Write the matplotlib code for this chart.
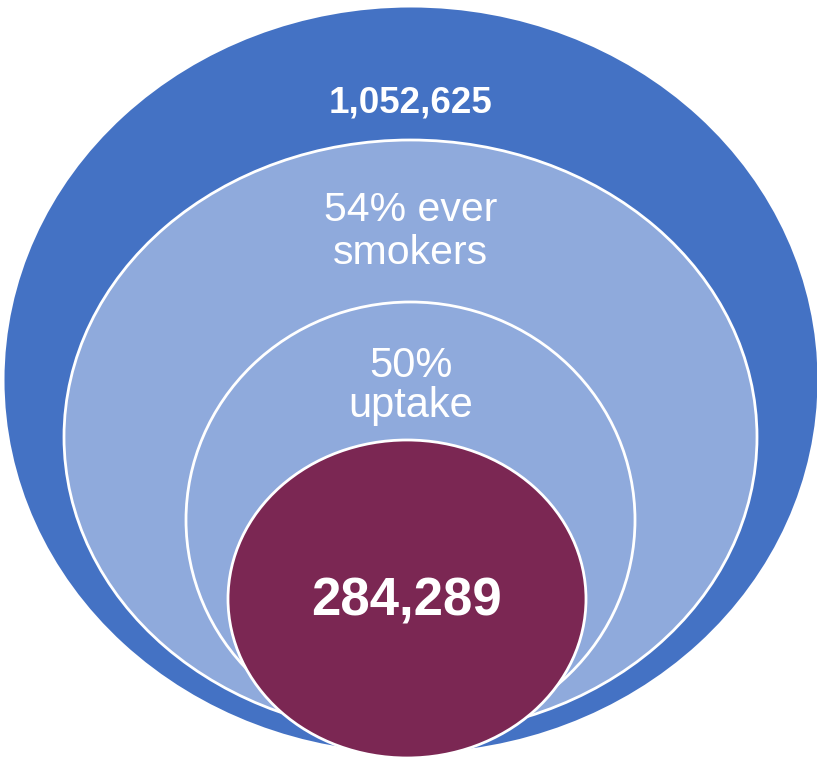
import matplotlib.pyplot as plt
from matplotlib.patches import Ellipse

# labels, outermost ring first
labels = ["1,052,625", "54% ever\nsmokers", "50%\nuptake", "284,289"]
bold = [True, False, False, True]

# ring layout in pixels: centre x, centre y, width, height
rings = [(411, 380, 813, 745),
         (410.5, 437, 693, 594),
         (410.5, 520, 449, 436),
         (407, 599, 358, 318)]
fills = ['#4472C4', '#8FAADC', '#8FAADC', '#7B2753']
edges = ['none', 'white', 'white', 'white']

# first baseline, line step, font size (pt)
text_pos = [(112, 0, 26.5), (221, 43, 29.5), (377, 40, 30), (615, 0, 38)]

W, H = 817, 760
fig = plt.figure(figsize=(W/100, H/100), dpi=100)
ax = fig.add_axes([0, 0, 1, 1])
ax.set_xlim(0, W)
ax.set_ylim(H, 0)
ax.axis('off')

for (cx, cy, w, h), fc, ec in zip(rings, fills, edges):
  ax.add_patch(Ellipse((cx, cy), w, h, facecolor=fc, edgecolor=ec, lw=2))

for i, lab in enumerate(labels):
  y0, step, fs = text_pos[i]
  cx = rings[i][0]
  for k, line in enumerate(lab.split("\n")):
    ax.text(cx, y0 + k*step, line, color='white', fontsize=fs,
            fontweight='bold' if bold[i] else 'normal',
            family='Liberation Sans', ha='center', va='baseline')

fig.savefig('out.png', dpi=100)
